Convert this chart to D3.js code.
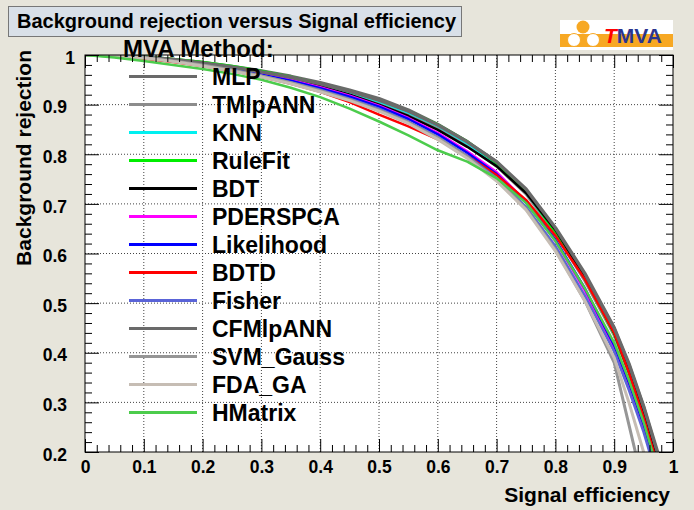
<!DOCTYPE html>
<html><head><meta charset="utf-8">
<script src="https://cdn.jsdelivr.net/npm/d3@7"></script>
<style>
html,body{margin:0;padding:0;background:#e7e5db;}
svg{display:block;font-family:"Liberation Sans",Arial,Helvetica,sans-serif;font-weight:bold;}
</style></head>
<body>
<script>
// ---- data ----
const xGrid = [0, 0.05, 0.1, 0.15, 0.2, 0.25, 0.3, 0.35, 0.4, 0.45, 0.5, 0.55, 0.6, 0.65, 0.7, 0.75, 0.8, 0.85, 0.9, 0.925, 0.95, 0.975, 1.0];
const methods = ["MLP","TMlpANN","KNN","RuleFit","BDT","PDERSPCA","Likelihood","BDTD","Fisher","CFMlpANN","SVM_Gauss","FDA_GA","HMatrix"];
const colors = ["#6a6a6a","#8c8c8c","#00f0f0","#00ee00","#000000","#ff00ff","#0000ff","#ff0000","#5a64d8","#6a6a6a","#969696","#c6bdb4","#4ccc4c"];
const widths = [3.5,3,2.5,2.5,2.5,2.5,2.5,2.5,2.5,3.5,3,3,2.5];
const rejMLP       = [1, 0.999, 0.996, 0.991, 0.985, 0.977, 0.968, 0.957, 0.944, 0.929, 0.912, 0.889, 0.860, 0.825, 0.784, 0.727, 0.648, 0.556, 0.448, 0.375, 0.290, 0.190, 0.05];
const rejTMlpANN   = [1, 0.999, 0.995, 0.990, 0.983, 0.975, 0.965, 0.953, 0.940, 0.924, 0.905, 0.882, 0.853, 0.818, 0.776, 0.720, 0.640, 0.545, 0.435, 0.360, 0.270, 0.170, 0.04];
const rejKNN       = [1, 0.999, 0.996, 0.990, 0.984, 0.976, 0.966, 0.954, 0.941, 0.925, 0.906, 0.884, 0.857, 0.822, 0.780, 0.724, 0.643, 0.550, 0.440, 0.365, 0.280, 0.180, 0.04];
const rejRuleFit   = [1, 0.999, 0.997, 0.992, 0.986, 0.978, 0.968, 0.956, 0.942, 0.927, 0.909, 0.887, 0.860, 0.826, 0.782, 0.725, 0.643, 0.550, 0.438, 0.360, 0.272, 0.170, 0.04];
const rejBDT       = [1, 0.999, 0.996, 0.990, 0.983, 0.974, 0.963, 0.951, 0.937, 0.920, 0.900, 0.877, 0.849, 0.815, 0.776, 0.722, 0.648, 0.553, 0.440, 0.362, 0.275, 0.175, 0.04];
const rejPDERSPCA  = [1, 0.999, 0.996, 0.990, 0.982, 0.973, 0.962, 0.950, 0.935, 0.918, 0.898, 0.873, 0.843, 0.806, 0.764, 0.705, 0.625, 0.525, 0.410, 0.335, 0.250, 0.150, 0.03];
const rejLikelihood= [1, 0.999, 0.995, 0.989, 0.981, 0.972, 0.960, 0.948, 0.933, 0.916, 0.896, 0.871, 0.840, 0.803, 0.760, 0.703, 0.628, 0.530, 0.415, 0.340, 0.255, 0.155, 0.03];
const rejBDTD      = [1, 0.998, 0.993, 0.986, 0.978, 0.968, 0.956, 0.942, 0.926, 0.905, 0.880, 0.856, 0.830, 0.797, 0.758, 0.708, 0.636, 0.548, 0.440, 0.360, 0.270, 0.170, 0.04];
const rejFisher    = [1, 0.999, 0.995, 0.989, 0.980, 0.970, 0.958, 0.945, 0.930, 0.912, 0.892, 0.866, 0.835, 0.797, 0.752, 0.694, 0.615, 0.515, 0.402, 0.325, 0.240, 0.140, 0.03];
const rejCFMlpANN  = [1, 0.999, 0.996, 0.991, 0.984, 0.976, 0.966, 0.955, 0.942, 0.927, 0.909, 0.887, 0.859, 0.825, 0.785, 0.730, 0.652, 0.560, 0.450, 0.378, 0.292, 0.195, 0.05];
const rejSVM_Gauss = [1, 0.999, 0.995, 0.988, 0.980, 0.970, 0.958, 0.944, 0.928, 0.910, 0.889, 0.864, 0.833, 0.795, 0.749, 0.690, 0.608, 0.505, 0.380, 0.255, 0.130, 0.050, 0.00];
const rejFDA_GA    = [1, 0.998, 0.994, 0.987, 0.978, 0.968, 0.956, 0.942, 0.926, 0.908, 0.887, 0.862, 0.830, 0.792, 0.746, 0.688, 0.605, 0.505, 0.390, 0.300, 0.200, 0.090, 0.01];
const rejHMatrix   = [1, 0.995, 0.988, 0.980, 0.972, 0.962, 0.950, 0.934, 0.915, 0.892, 0.866, 0.838, 0.808, 0.785, 0.752, 0.702, 0.625, 0.530, 0.420, 0.345, 0.260, 0.160, 0.03];
const seriesValues = [rejMLP,rejTMlpANN,rejKNN,rejRuleFit,rejBDT,rejPDERSPCA,rejLikelihood,rejBDTD,rejFisher,rejCFMlpANN,rejSVM_Gauss,rejFDA_GA,rejHMatrix];
const xTickLabels = ["0","0.1","0.2","0.3","0.4","0.5","0.6","0.7","0.8","0.9","1"];
const yTickLabels = ["0.2","0.3","0.4","0.5","0.6","0.7","0.8","0.9","1"];
const titleText = "Background rejection versus Signal efficiency";
const xTitle = "Signal efficiency";
const yTitle = "Background rejection";
const legendHeader = "MVA Method:";

// ---- layout ----
const W = 694, H = 510;
const L = 85, R = 673, T = 55, B = 452;
const svg = d3.select("body").append("svg").attr("width", W).attr("height", H);
svg.append("rect").attr("width", W).attr("height", H).attr("fill", "#e7e5db");

const x = d3.scaleLinear().domain([0, 1]).range([L, R]);
const y = d3.scaleLinear().domain([0.2, 1]).range([B, T]);

// plot area
svg.append("rect").attr("x", L).attr("y", T).attr("width", R - L).attr("height", B - T).attr("fill", "#ffffff");

// grid
const xMaj = xTickLabels.map(Number);
const yMaj = yTickLabels.map(Number);
const g = svg.append("g");
g.selectAll(".gx").data(xMaj.slice(1, -1)).join("line")
  .attr("x1", d => x(d)).attr("x2", d => x(d)).attr("y1", T).attr("y2", B)
  .attr("stroke", "#444").attr("stroke-width", 1).attr("stroke-dasharray", "1,2");
g.selectAll(".gy").data(yMaj.slice(1, -1)).join("line")
  .attr("y1", d => y(d)).attr("y2", d => y(d)).attr("x1", L).attr("x2", R)
  .attr("stroke", "#444").attr("stroke-width", 1).attr("stroke-dasharray", "1,2");

// curves
svg.append("clipPath").attr("id", "clip").append("rect").attr("x", L).attr("y", T).attr("width", R - L).attr("height", B - T);
const line = d3.line().x((d, i) => x(xGrid[i])).y(d => y(d));
const cg = svg.append("g").attr("clip-path", "url(#clip)");
seriesValues.forEach((vals, k) => {
  cg.append("path").attr("d", line(vals)).attr("fill", "none")
    .attr("stroke", colors[k]).attr("stroke-width", widths[k]).attr("stroke-linejoin", "round");
});

// axes
const xMinor = d3.range(0, 51).map(i => i / 50).filter(v => !xMaj.some(m => Math.abs(m - v) < 1e-9));
const yMinor = d3.range(10, 51).map(i => i / 50).filter(v => !yMaj.some(m => Math.abs(m - v) < 1e-9));
function styleAxis(sel) { sel.select(".domain").remove(); sel.selectAll("line").attr("stroke", "#000"); }

svg.append("g").attr("transform", `translate(0,${B})`)
  .call(d3.axisBottom(x).tickValues(xMaj).tickSize(-13).tickSizeOuter(0).tickPadding(9).tickFormat((d, i) => xTickLabels[i]))
  .call(styleAxis)
  .call(s => s.selectAll("text").attr("font-size", 17.5).attr("font-weight", "bold").attr("fill", "#000").attr("font-family", "Liberation Sans, Arial, sans-serif"));
svg.append("g").attr("transform", `translate(0,${B})`)
  .call(d3.axisBottom(x).tickValues(xMinor).tickSize(-7).tickSizeOuter(0).tickFormat("")).call(styleAxis);
svg.append("g").attr("transform", `translate(0,${T})`)
  .call(d3.axisTop(x).tickValues(xMaj).tickSize(-13).tickSizeOuter(0).tickFormat("")).call(styleAxis);
svg.append("g").attr("transform", `translate(0,${T})`)
  .call(d3.axisTop(x).tickValues(xMinor).tickSize(-7).tickSizeOuter(0).tickFormat("")).call(styleAxis);

svg.append("g").attr("transform", `translate(${L},0)`)
  .call(d3.axisLeft(y).tickValues(yMaj).tickSize(-14).tickSizeOuter(0).tickPadding(18).tickFormat((d, i) => yTickLabels[i]))
  .call(styleAxis)
  .call(s => s.selectAll("text").attr("font-size", 17.5).attr("font-weight", "bold").attr("fill", "#000").attr("dy", "0.47em")
    .attr("font-family", "Liberation Sans, Arial, sans-serif")
    .attr("dx", d => d === 1 ? 8 : 0));
svg.append("g").attr("transform", `translate(${L},0)`)
  .call(d3.axisLeft(y).tickValues(yMinor).tickSize(-7).tickSizeOuter(0).tickFormat("")).call(styleAxis);
svg.append("g").attr("transform", `translate(${R},0)`)
  .call(d3.axisRight(y).tickValues(yMaj).tickSize(-14).tickSizeOuter(0).tickFormat("")).call(styleAxis);
svg.append("g").attr("transform", `translate(${R},0)`)
  .call(d3.axisRight(y).tickValues(yMinor).tickSize(-7).tickSizeOuter(0).tickFormat("")).call(styleAxis);

// frame
svg.append("rect").attr("x", L).attr("y", T).attr("width", R - L).attr("height", B - T)
  .attr("fill", "none").attr("stroke", "#000").attr("stroke-width", 1);

// axis titles
svg.append("text").attr("x", 670).attr("y", 502).attr("text-anchor", "end")
  .attr("font-size", 21).attr("fill", "#000").text(xTitle);
svg.append("text").attr("transform", "translate(31,50) rotate(-90)").attr("text-anchor", "end")
  .attr("font-size", 21).attr("fill", "#000").text(yTitle);

// title box
svg.append("rect").attr("x", 8.5).attr("y", 6.5).attr("width", 453).attr("height", 30)
  .attr("fill", "#d9e0e8").attr("stroke", "#777").attr("stroke-width", 1);
svg.append("text").attr("x", 17).attr("y", 28).attr("font-size", 20).attr("fill", "#000").text(titleText);

// TMVA logo
const lg = svg.append("g");
lg.append("rect").attr("x", 560).attr("y", 20).attr("width", 113).attr("height", 30).attr("fill", "#ffffff");
lg.append("rect").attr("x", 560).attr("y", 34).attr("width", 113).attr("height", 13).attr("fill", "#f7a823");
lg.append("circle").attr("cx", 583).attr("cy", 27).attr("r", 6.5).attr("fill", "#f7a823");
lg.append("circle").attr("cx", 574).attr("cy", 40).attr("r", 6.5).attr("fill", "#ffffff").attr("stroke", "#f7a823").attr("stroke-width", 1);
lg.append("circle").attr("cx", 593).attr("cy", 40).attr("r", 6.5).attr("fill", "#ffffff").attr("stroke", "#f7a823").attr("stroke-width", 1);
const lt = lg.append("text").attr("x", 604).attr("y", 43).attr("font-size", 21).attr("font-weight", "bold");
lt.append("tspan").attr("fill", "#ff0000").attr("font-style", "italic").text("T");
lt.append("tspan").attr("fill", "#2a3590").text("MVA");

// legend
const leg = svg.append("g");
leg.append("text").attr("x", 123).attr("y", 57).attr("font-size", 24).attr("fill", "#000").text(legendHeader);
methods.forEach((m, k) => {
  const ry = 76.5 + k * 28;
  leg.append("line").attr("x1", 129).attr("x2", 197).attr("y1", ry).attr("y2", ry)
    .attr("stroke", colors[k]).attr("stroke-width", 3);
  leg.append("text").attr("x", 212).attr("y", ry + 8.5).attr("font-size", 23).attr("fill", "#000").text(m);
});
</script>
</body></html>
